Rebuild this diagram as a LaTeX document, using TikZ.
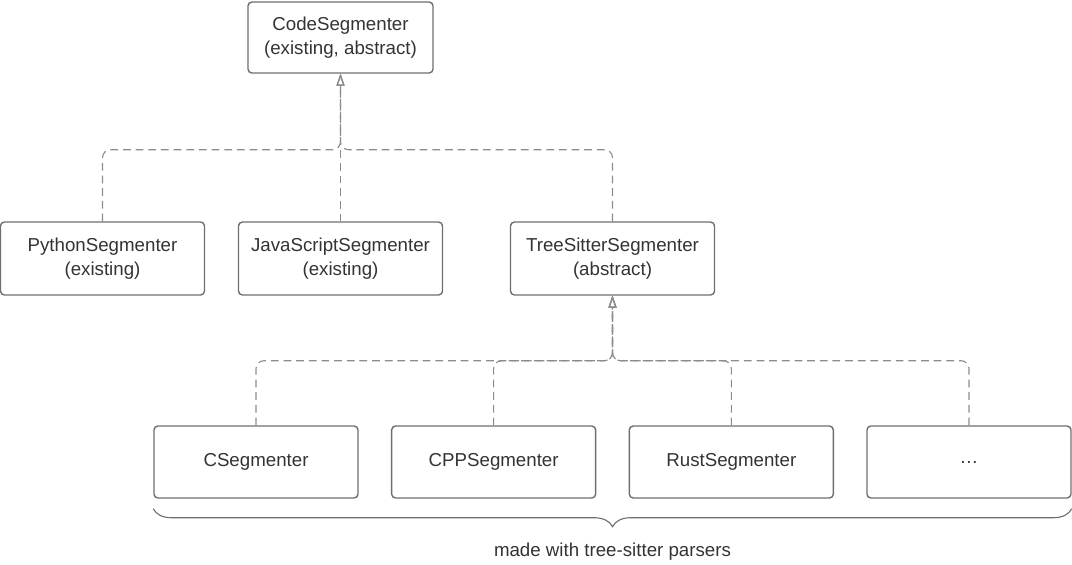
\documentclass[tikz,border=0pt]{standalone}
\usepackage{fontspec}
\setmainfont{Liberation Sans}
\usetikzlibrary{arrows.meta}
\usetikzlibrary{positioning}
\usetikzlibrary{decorations.pathreplacing}
\definecolor{boxline}{HTML}{6E6E6E}
\definecolor{txt}{HTML}{333333}
\definecolor{dashline}{HTML}{8C8C8C}

\begin{document}
\begin{tikzpicture}[x=0.025cm,y=-0.025cm,node distance=5.94cm,
  cls/.style={draw=boxline,line width=1pt,rounded corners=0.1cm,text=txt,
    minimum width=5.1cm,minimum height=1.825cm,align=center,
    font=\fontsize{13.3}{17}\selectfont},
  realize/.style={draw=dashline,line width=0.8pt,dash pattern=on 5.5pt off 3.5pt,
    rounded corners=0.2cm,-{Triangle[open,length=0.3cm,width=0.2cm]}},
  brc/.style={draw=boxline,line width=0.8pt,decorate,
    decoration={brace,mirror,amplitude=0.45cm}},
  note/.style={text=txt,font=\fontsize{13.3}{17}\selectfont}]

  \useasboundingbox (0,0) rectangle (1072,565);

  \node[cls,minimum width=4.625cm,minimum height=1.775cm] (code) at (340.5,37.5)
    {CodeSegmenter\\(existing, abstract)};
  \node[cls] (python) at (102.5,258.5) {PythonSegmenter\\(existing)};
  \node[cls] (javascript) at (340.5,258.5) {JavaScriptSegmenter\\(existing)};
  \node[cls] (treesitter) at (612.5,258.5) {TreeSitterSegmenter\\(abstract)};

  \node[cls,minimum height=1.8cm] (cseg) at (256,462) {CSegmenter};
  \node[cls,minimum height=1.8cm] (cppseg) [right of=cseg] {CPPSegmenter};
  \node[cls,minimum height=1.8cm] (rustseg) [right of=cppseg] {RustSegmenter};
  \node[cls,minimum height=1.8cm] (more) [right of=rustseg] {…};

  \path (code.south) ++(0,76) coordinate (bus1);
  \path (treesitter.south) ++(0,65) coordinate (bus2);

  % subclasses of CodeSegmenter
  \draw[realize] (python.north) |- (bus1) -- (code.south);
  \draw[realize] (javascript.north) -- (code.south);
  \draw[realize] (treesitter.north) |- (bus1) -- (code.south);

  % tree-sitter based ones
  \draw[realize] (cseg.north) |- (bus2) -- (treesitter.south);
  \draw[realize] (cppseg.north) |- (bus2) -- (treesitter.south);
  \draw[realize] (rustseg.north) |- (bus2) -- (treesitter.south);
  \draw[realize] (more.north) |- (bus2) -- (treesitter.south);

  \draw[brc] ([yshift=-0.25cm]cseg.south west) -- ([yshift=-0.25cm]more.south east)
    node[note,midway,yshift=-1.075cm] (parsers) {made with tree-sitter parsers};
\end{tikzpicture}
\end{document}
